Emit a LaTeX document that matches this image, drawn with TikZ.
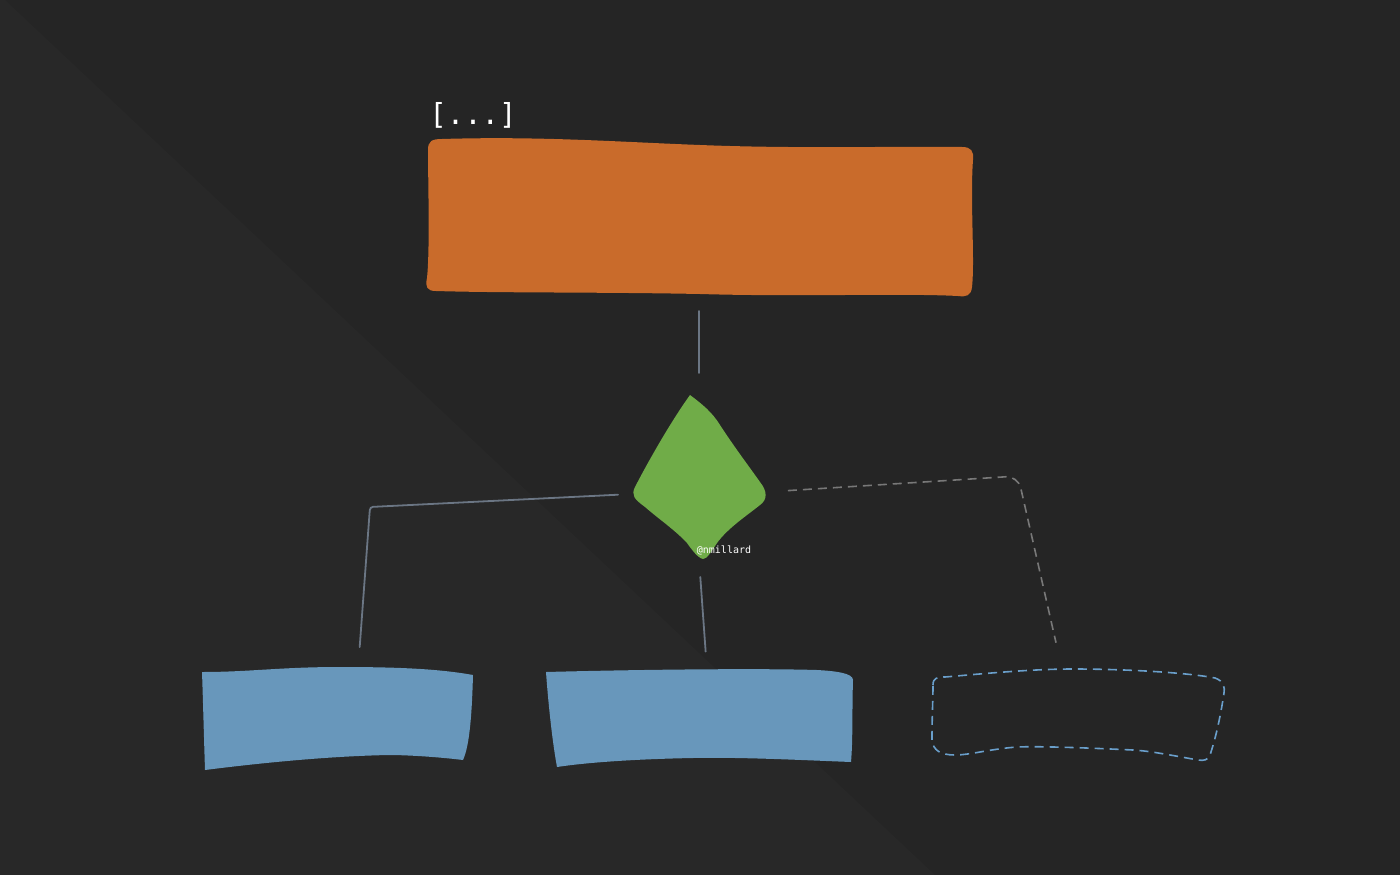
\documentclass[tikz,border=0pt]{standalone}
\usepackage{fontspec}
\newfontfamily\mono{DejaVu Sans Mono}

\definecolor{fondo}{HTML}{252525}
\definecolor{fondoclaro}{HTML}{282828}
\definecolor{naranja}{HTML}{C96B2B}
\definecolor{verde}{HTML}{70AC48}
\definecolor{azul}{HTML}{6897BB}
\definecolor{linea}{HTML}{6B7684}
\definecolor{lineagris}{HTML}{787878}
\definecolor{azuldash}{HTML}{6A9FCB}

\begin{document}
\begin{tikzpicture}[x=1pt, y=-1pt,
    caja/.style={inner sep=0pt, outer sep=0pt},
    arista/.style={draw=linea, line width=1.8pt, line cap=round},
    punteada/.style={draw=lineagris, line width=1.6pt, dash pattern=on 9pt off 6pt}]
    % Fondo
    \useasboundingbox (0,0) rectangle (1400,875);
    \fill[fondo] (0,0) rectangle (1400,875);
    \fill[fondoclaro] (0,0) -- (5,0) -- (935,875) -- (0,875) -- cycle;

    % Nodos
    \node[caja, minimum width=546pt, minimum height=156pt] (raiz) at (700,218) {};
    \node[caja, minimum width=134pt, minimum height=164pt] (dec) at (699,477) {};
    \node[caja, minimum width=271pt, minimum height=98pt] (izq) at (337,719) {};
    \node[caja, minimum width=307pt, minimum height=97pt] (cen) at (700,719) {};
    \node[caja, minimum width=292pt, minimum height=92pt] (der) at (1078,715) {};
    \coordinate (codoI) at (370,507);
    \coordinate (codoD) at (1018,476);

    % Formas
    \fill[naranja] (428,150) .. controls (428,141) and (432,139) .. (442,139)
        .. controls (540,136) and (620,142) .. (700,145)
        .. controls (800,149) and (900,146) .. (962,147)
        .. controls (971,147) and (974,151) .. (973,160)
        .. controls (970,200) and (975,260) .. (972,287)
        .. controls (971,296) and (966,297) .. (958,296)
        .. controls (900,293) and (800,297) .. (700,294)
        .. controls (600,292) and (500,293) .. (436,291)
        .. controls (427,291) and (425,287) .. (427,278)
        .. controls (430,250) and (428,180) .. (428,150) -- cycle;
    \fill[verde] (690,395) .. controls (702,404) and (712,412) .. (720,425)
        .. controls (735,448) and (748,465) .. (760,482)
        .. controls (768,492) and (767,500) .. (760,505)
        .. controls (745,517) and (728,528) .. (717,543)
        .. controls (711,552) and (707,559) .. (703,559)
        .. controls (698,558) and (692,550) .. (687,543)
        .. controls (675,530) and (660,520) .. (645,507)
        .. controls (634,499) and (631,495) .. (635,487)
        .. controls (650,458) and (672,420) .. (690,395) -- cycle;
    \fill[azul] (202,672) .. controls (250,672) and (280,667) .. (340,667)
        .. controls (400,667) and (440,669) .. (473,675)
        .. controls (472,710) and (470,745) .. (463,760)
        .. controls (430,756) and (400,755) .. (390,755)
        .. controls (330,756) and (260,763) .. (205,770)
        .. controls (204,740) and (203,700) .. (202,672) -- cycle;
    \fill[azul] (546,672) .. controls (620,670) and (750,668) .. (817,670)
        .. controls (835,671) and (853,673) .. (853,680)
        .. controls (852,710) and (853,740) .. (851,762)
        .. controls (800,760) and (740,757) .. (693,758)
        .. controls (640,759) and (590,762) .. (557,767)
        .. controls (552,740) and (548,700) .. (546,672) -- cycle;
    \draw[draw=azuldash, line width=1.6pt, dash pattern=on 9pt off 6pt]
        (933,685) .. controls (933,678) and (937,677) .. (945,677)
        .. controls (980,674) and (1030,669) .. (1073,669)
        .. controls (1130,669) and (1190,673) .. (1215,678)
        .. controls (1224,681) and (1225,688) .. (1224,693)
        .. controls (1220,720) and (1215,740) .. (1210,755)
        .. controls (1208,760) and (1204,761) .. (1198,760)
        .. controls (1170,755) and (1150,751) .. (1133,750)
        .. controls (1090,748) and (1040,746) .. (1017,747)
        .. controls (990,749) and (970,755) .. (955,755)
        .. controls (940,755) and (933,750) .. (932,740)
        .. controls (932,715) and (933,700) .. (933,685) -- cycle;

    % Textos
    \node[white, anchor=base, font=\mono\fontsize{29}{29}\selectfont] (puntos) at (473,124) {[...]};
    \node[white, font=\mono\fontsize{10}{10}\selectfont] (firma) at (724,550) {@nmillard};

    % Aristas
    \draw[arista, shorten <=15pt, shorten >=22pt] (dec.north |- raiz.south) -- (dec.north);
    \draw[arista, rounded corners=3pt, shorten <=14pt, shorten >=23pt]
        ([shift={(0,17)}]dec.west) -- (codoI) -- ([shift={(21,0)}]izq.north);
    \draw[arista, shorten <=18pt, shorten >=19pt] (dec.south) -- ([shift={(7,0)}]cen.north);
    \draw[punteada, rounded corners=12pt, shorten <=22pt, shorten >=27pt]
        ([shift={(0,15)}]dec.east) -- (codoD) -- ([shift={(-16,0)}]der.north);
\end{tikzpicture}
\end{document}
